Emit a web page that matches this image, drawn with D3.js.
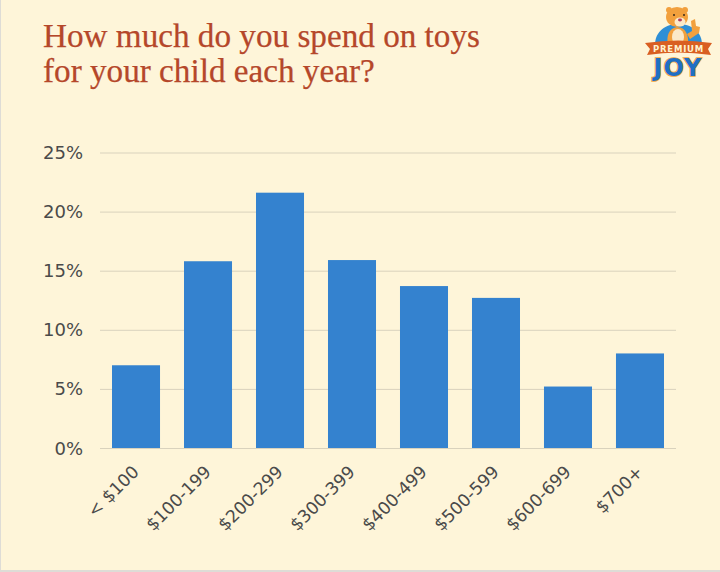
<!DOCTYPE html>
<html><head><meta charset="utf-8">
<style>html,body{margin:0;padding:0;background:#fef5d9}svg{display:block}</style>
<script src="https://cdn.jsdelivr.net/npm/d3@7"></script></head>
<body><script>
const categories=["< $100","$100-199","$200-299","$300-399","$400-499","$500-599","$600-699","$700+"];
const values=[7,15.8,21.6,15.9,13.7,12.7,5.2,8];
const yTicks=[0,5,10,15,20,25];
const titleLines=["How much do you spend on toys","for your child each year?"];
const W=720,H=572;
const svg=d3.select("body").append("svg").attr("width",W).attr("height",H);
svg.append("rect").attr("width",W).attr("height",H).attr("fill","#dedcd6");
svg.append("rect").attr("x",1).attr("y",0).attr("width",W-1).attr("height",H-2).attr("fill","#fef5d9");
const x=d3.scaleBand().domain(categories).range([100,676]).paddingInner(0.333).paddingOuter(0.1667);
const y=d3.scaleLinear().domain([0,25]).range([448,152.5]);
const font="'DejaVu Sans', Verdana, sans-serif";
svg.append("g").selectAll("line").data(yTicks).join("line")
 .attr("x1",100).attr("x2",676).attr("y1",d=>y(d)+.5).attr("y2",d=>y(d)+.5)
 .attr("stroke","#d9d2bd").attr("stroke-width",1);
svg.append("g").selectAll("rect").data(values).join("rect")
 .attr("x",(d,i)=>x(categories[i])).attr("width",x.bandwidth())
 .attr("y",d=>y(d)).attr("height",d=>y(0)-y(d)).attr("fill","#3482cf");
svg.append("g").selectAll("text").data(yTicks).join("text")
 .attr("x",83).attr("y",d=>y(d)+6.5).attr("text-anchor","end")
 .attr("font-family",font).attr("font-size",18).attr("fill","#4a4a4a").text(d=>d+"%");
svg.append("g").selectAll("text").data(categories).join("text")
 .attr("text-anchor","end").attr("font-family",font).attr("font-size",17.3).attr("fill","#4a4a4a")
 .attr("transform",d=>`translate(${x(d)+x.bandwidth()/2+4},${473}) rotate(-45)`).text(d=>d);
svg.append("g").selectAll("text").data(titleLines).join("text")
 .attr("x",43).attr("y",(d,i)=>47+i*35).attr("font-family","'Liberation Serif','Times New Roman',serif")
 .attr("font-size",33.2).attr("fill","#b5472a").attr("stroke","#b5472a").attr("stroke-width",.25).text(d=>d);
// logo
const logo=svg.append("g").attr("aria-label","Premium Joy logo");
logo.append("path").attr("d","M655 45 C655 31 666 24 678 24 C691 24 702 31 702 45 Z").attr("fill","#2e8fd6");
logo.append("path").attr("d","M668 45 C666 36 669 28 677 27 C686 27 689 36 688 45 Z").attr("fill","#f2a03d");
logo.append("ellipse").attr("cx",678).attr("cy",37).attr("rx",6).attr("ry",8).attr("fill","#fbe9c8");
logo.append("path").attr("d","M687 34 L692 31 L691 21 L695 19 L696 26 L700 27 L699 33 L690 39 Z").attr("fill","#f2a03d");
logo.append("circle").attr("cx",669).attr("cy",10).attr("r",3).attr("fill","#f2a03d");
logo.append("circle").attr("cx",685).attr("cy",10).attr("r",3).attr("fill","#f2a03d");
logo.append("ellipse").attr("cx",677).attr("cy",17).attr("rx",11).attr("ry",10).attr("fill","#f2a03d");
logo.append("ellipse").attr("cx",680).attr("cy",22).attr("rx",5.5).attr("ry",4.5).attr("fill","#fbe9c8");
logo.append("ellipse").attr("cx",680).attr("cy",20).attr("rx",2).attr("ry",1.4).attr("fill","#b23a5e");
logo.append("circle").attr("cx",674).attr("cy",15).attr("r",1).attr("fill","#3a2a1a");
logo.append("circle").attr("cx",684).attr("cy",15).attr("r",1).attr("fill","#3a2a1a");
logo.append("path").attr("d","M645 43 Q678 38 712 43 L708 49 L711 55 Q678 50 647 55 L650 49 Z").attr("fill","#d95f22");
logo.append("text").attr("x",678.5).attr("y",52).attr("text-anchor","middle").attr("letter-spacing",.8)
 .attr("font-family","'DejaVu Sans',sans-serif").attr("font-weight",700).attr("font-size",8.5).attr("fill","#fff3d0").text("PREMIUM");
logo.append("text").attr("x",677.5).attr("y",76).attr("text-anchor","middle").attr("paint-order","stroke")
 .attr("font-family","'DejaVu Sans',sans-serif").attr("font-weight",700).attr("font-size",24).attr("fill","#1f6fc4")
 .attr("stroke","#f4a63e").attr("stroke-width",1.6).attr("textLength",48).text("JOY");
</script></body></html>
